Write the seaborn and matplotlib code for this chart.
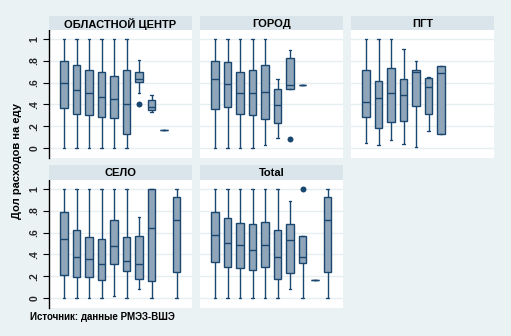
import numpy as np
import pandas as pd
import matplotlib
matplotlib.use("Agg")
import matplotlib.pyplot as plt
import seaborn as sns

# ---------------- data ----------------
cats = ["1", "2", "3", "4", "5", "6", "7", "8", "9", "10"]
areas = ["ОБЛАСТНОЙ ЦЕНТР", "ГОРОД", "ПГТ", "СЕЛО", "Total"]

# five-number summaries per category (None = no observations)
obl_lo  = [0.0,   0.0,   0.0,   0.0,   0.0,   0.0,   0.500, 0.327, 0.162, None]
obl_q1  = [0.364, 0.309, 0.300, 0.281, 0.272, 0.125, 0.602, 0.346, 0.162, None]
obl_med = [0.593, 0.532, 0.502, 0.465, 0.446, 0.400, 0.630, 0.373, 0.162, None]
obl_q3  = [0.795, 0.758, 0.713, 0.694, 0.664, 0.713, 0.694, 0.437, 0.162, None]
obl_hi  = [1.0,   1.0,   1.0,   1.0,   1.0,   1.0,   0.804, 0.489, 0.162, None]

gor_lo  = [0.0,   0.0,   0.0,   0.0,   0.024, 0.092, 0.538, 0.575, None, None]
gor_q1  = [0.355, 0.373, 0.309, 0.300, 0.263, 0.226, 0.538, 0.575, None, None]
gor_med = [0.630, 0.584, 0.502, 0.502, 0.511, 0.391, 0.575, 0.575, None, None]
gor_q3  = [0.795, 0.786, 0.694, 0.713, 0.758, 0.538, 0.823, 0.575, None, None]
gor_hi  = [1.0,   1.0,   1.0,   1.0,   1.0,   0.630, 0.896, 0.575, None, None]

pgt_lo  = [0.043, 0.024, 0.070, 0.034, 0.006, 0.153, 0.125, None, None, None]
pgt_q1  = [0.281, 0.180, 0.235, 0.245, 0.382, 0.309, 0.125, None, None, None]
pgt_med = [0.419, 0.456, 0.502, 0.483, 0.694, 0.557, 0.685, None, None, None]
pgt_q3  = [0.713, 0.612, 0.731, 0.630, 0.713, 0.639, 0.749, None, None, None]
pgt_hi  = [1.0,   1.0,   1.0,   0.905, 0.795, 0.648, 0.749, None, None, None]

sel_lo  = [0.0,   0.0,   0.0,   0.0,   0.015, 0.0,   0.079, 0.0,   None, 0.0]
sel_q1  = [0.207, 0.188, 0.188, 0.161, 0.316, 0.243, 0.170, 0.152, None, 0.234]
sel_med = [0.544, 0.380, 0.362, 0.316, 0.480, 0.343, 0.316, 0.644, None, 0.717]
sel_q3  = [0.790, 0.626, 0.562, 0.544, 0.717, 0.562, 0.571, 1.0,   None, 0.927]
sel_hi  = [1.0,   1.0,   1.0,   1.0,   1.0,   1.0,   0.745, 1.0,   None, 1.0]

tot_lo  = [0.0,   0.0,   0.0,   0.0,   0.0,   0.0,   0.079, 0.0,   0.161, 0.0]
tot_q1  = [0.334, 0.280, 0.271, 0.252, 0.280, 0.170, 0.225, 0.325, 0.161, 0.234]
tot_med = [0.581, 0.508, 0.489, 0.444, 0.489, 0.380, 0.535, 0.380, 0.161, 0.717]
tot_q3  = [0.790, 0.736, 0.690, 0.681, 0.699, 0.626, 0.681, 0.571, 0.161, 0.927]
tot_hi  = [1.0,   1.0,   1.0,   1.0,   1.0,   1.0,   0.891, 0.571, 0.161, 1.0]

# outside values
out_area  = ["ОБЛАСТНОЙ ЦЕНТР", "ГОРОД", "Total"]
out_cat   = ["7", "7", "8"]
out_value = [0.400, 0.080, 0.997]

ytick_vals = [0, 0.2, 0.4, 0.6, 0.8, 1.0]
ytick_labels = ["0", ".2", ".4", ".6", ".8", "1"]
ylabel = "Дол расходов на еду"
note = "Источник: данные РМЭЗ-ВШЭ"

summ = {
    "ОБЛАСТНОЙ ЦЕНТР": (obl_lo, obl_q1, obl_med, obl_q3, obl_hi),
    "ГОРОД": (gor_lo, gor_q1, gor_med, gor_q3, gor_hi),
    "ПГТ": (pgt_lo, pgt_q1, pgt_med, pgt_q3, pgt_hi),
    "СЕЛО": (sel_lo, sel_q1, sel_med, sel_q3, sel_hi),
    "Total": (tot_lo, tot_q1, tot_med, tot_q3, tot_hi),
}

rows = []
for area, arrs in summ.items():
    for i, c in enumerate(cats):
        vals = [a[i] for a in arrs]
        if vals[0] is None:
            continue
        for v in vals:
            rows.append({"area": area, "cat": c, "value": v})
df = pd.DataFrame(rows)
outs = pd.DataFrame({"area": out_area, "cat": out_cat, "value": out_value})

# ---------------- style ----------------
sns.set_theme(style="white")
plt.rcParams["font.family"] = ["Liberation Sans", "DejaVu Sans"]

BG = "#eaf2f3"
STRIP = "#d9e5ea"
FILL = "#8fa5b9"
NAVY = "#1a476f"
GRID = "#e6eef0"

W, H = 511, 336
fig = plt.figure(figsize=(W / 100, H / 100), dpi=100, facecolor=BG)

col_x = [49, 200, 351]
pw = 143
row_plot = [(30, 158), (180, 308)]
row_strip = [(16, 30), (165, 180)]

for k, area in enumerate(areas):
    r, c = divmod(k, 3)
    x0 = col_x[c]
    ytop, ybot = row_plot[r]
    ax = fig.add_axes([x0 / W, 1 - ybot / H, pw / W, (ybot - ytop) / H])
    ax.set_facecolor("white")
    for yv in ytick_vals:
        ax.axhline(yv, color=GRID, lw=1.0, zorder=0)
    sub = df[df["area"] == area]
    sns.boxplot(data=sub, x="cat", y="value", order=cats, whis=np.inf,
                width=0.6, color=FILL, linecolor=NAVY, linewidth=1.0,
                saturation=1, fliersize=0, ax=ax,
                capwidths=0.22, zorder=2)
    osub = outs[outs["area"] == area]
    if len(osub):
        sns.stripplot(data=osub, x="cat", y="value", order=cats, jitter=False,
                      color=NAVY, size=4.3, linewidth=0, ax=ax, zorder=3)
    ax.set_xlim(-1.2, 10.24)
    ax.set_ylim(-0.092, 1.082)
    ax.set_xlabel("")
    ax.set_ylabel("")
    ax.set_xticks([])
    for s in ["top", "right", "bottom"]:
        ax.spines[s].set_visible(False)
    if c == 0:
        ax.spines["left"].set_visible(True)
        ax.spines["left"].set_color("black")
        ax.spines["left"].set_linewidth(1.0)
        ax.set_yticks(ytick_vals)
        ax.set_yticklabels(ytick_labels, rotation=90, va="center",
                           fontsize=7.5, fontweight="bold")
        ax.tick_params(axis="y", length=4, width=0.8, color="black",
                       left=True, pad=3)
    else:
        ax.spines["left"].set_visible(False)
        ax.set_yticks([])

    st, sb = row_strip[r]
    sax = fig.add_axes([x0 / W, 1 - sb / H, pw / W, (sb - st) / H])
    sax.set_facecolor(STRIP)
    sax.set_xticks([]); sax.set_yticks([])
    for s in sax.spines.values():
        s.set_visible(False)
    sax.text(0.5, 0.45, area, ha="center", va="center", fontsize=8,
             fontweight="bold", color="black", transform=sax.transAxes)

fig.text(17 / W, 1 - 161 / H, ylabel, rotation=90, ha="center", va="center",
         fontsize=8, fontweight="bold", color="black")
fig.text(30 / W, 1 - 317 / H, note, ha="left", va="center",
         fontsize=7, fontweight="bold", color="black")

fig.savefig("out.png", dpi=100, facecolor=BG)
